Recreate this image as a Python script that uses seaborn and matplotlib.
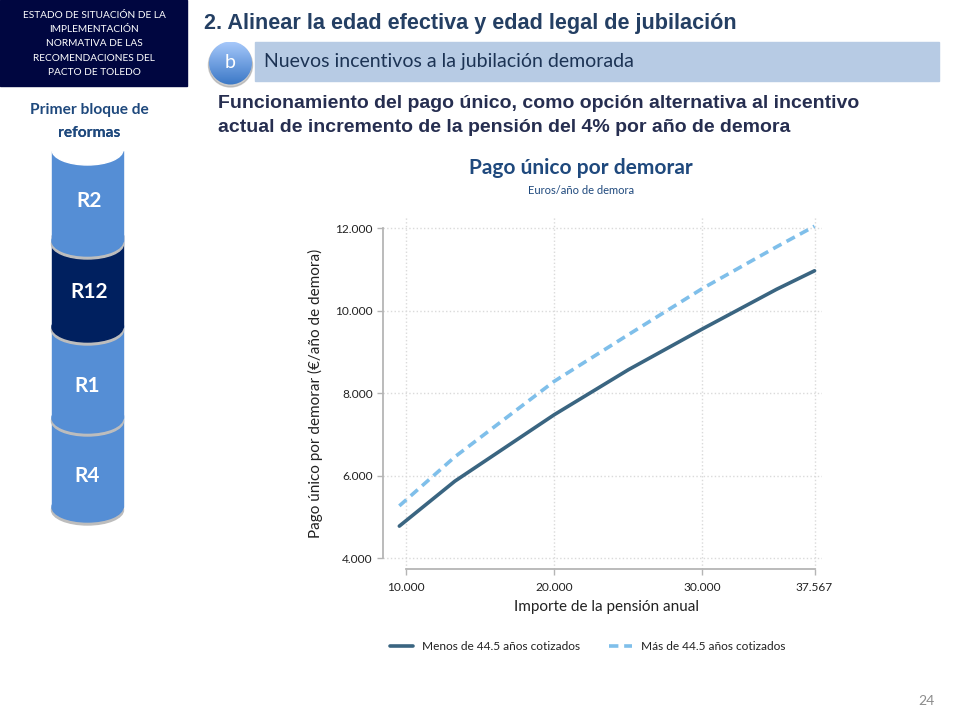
import numpy as np
import pandas as pd
import seaborn as sns
import matplotlib
matplotlib.use("Agg")
import matplotlib.pyplot as plt
from matplotlib.patches import Rectangle, Ellipse, Circle

# datos
pension = [9550, 13300, 20000, 25000, 30000, 35000, 37567]
menos_445 = [4780, 5870, 7480, 8570, 9560, 10520, 10970]
mas_445 = [5270, 6460, 8290, 9420, 10540, 11550, 12050]
x_ticks = [10000, 20000, 30000, 37567]
x_labels = ["10.000", "20.000", "30.000", "37.567"]
y_ticks = [4000, 6000, 8000, 10000, 12000]
y_labels = ["4.000", "6.000", "8.000", "10.000", "12.000"]
serie_menos = "Menos de 44.5 años cotizados"
serie_mas = "Más de 44.5 años cotizados"

df = pd.DataFrame({
    "pension": pension * 2,
    "pago": menos_445 + mas_445,
    "grupo": [serie_menos] * len(pension) + [serie_mas] * len(pension),
})

sns.set_style("white")
plt.rcParams["font.family"] = ["Lato", "DejaVu Sans"]

fig = plt.figure(figsize=(9.6, 7.2), dpi=100)

# fondo de la diapositiva, en pixeles
bg = fig.add_axes([0, 0, 1, 1])
bg.set_xlim(0, 960)
bg.set_ylim(720, 0)
bg.axis("off")

navy = "#000640"
azul = "#558ED5"
azul_osc = "#00205F"
texto_azul = "#1F497D"

bg.add_patch(Rectangle((0, 0), 187, 86, color=navy))
cab = ["ESTADO DE SITUACIÓN DE LA", "IMPLEMENTACIÓN", "NORMATIVA DE LAS",
       "RECOMENDACIONES DEL", "PACTO DE TOLEDO"]
for i, t in enumerate(cab):
    bg.text(94, 15 + i * 14.4, t, color="white", fontsize=7.3, ha="center", va="center")

bg.text(89, 110, "Primer bloque de", color=texto_azul, fontsize=11.2, weight="bold", ha="center", va="center")
bg.text(89, 133, "reformas", color=texto_azul, fontsize=11.2, weight="bold", ha="center", va="center")


def cilindro(top, bottom, color, label, ylab, xlab):
    # borde gris inferior y cuerpo
    bg.add_patch(Ellipse((87.5, bottom + 3), 72, 30, color="#BDBDBD"))
    bg.add_patch(Ellipse((87.5, bottom), 71, 30, color=color))
    bg.add_patch(Rectangle((52, top), 71, bottom - top, color=color))
    bg.text(xlab, ylab, label, color="white", fontsize=15, weight="bold", ha="center", va="center")


cilindro(415, 507, azul, "R4", 476, 87.5)
cilindro(325, 418, azul, "R1", 386, 87.5)
cilindro(235, 327, azul_osc, "R12", 292, 89)
cilindro(150, 241, azul, "R2", 201, 89)
bg.add_patch(Ellipse((87.5, 150), 71, 30, color="white"))
bg.add_patch(Rectangle((50, 130), 75, 20, color="white"))
bg.text(89, 133, "reformas", color=texto_azul, fontsize=11.2, weight="bold", ha="center", va="center")

# titulos
bg.text(204, 24, "2. Alinear la edad efectiva y edad legal de jubilación", color="#243F63",
        fontsize=15.6, weight="bold", family="Liberation Sans", ha="left", va="center")
bg.add_patch(Rectangle((255, 42), 684, 39, color="#B7CBE4"))
bg.text(264, 61, "Nuevos incentivos a la jubilación demorada", color="#1C3354",
        fontsize=14, ha="left", va="center")

# boton b con degradado
bg.add_patch(Circle((230.5, 65), 22, color="#9A9A9A", alpha=0.5))
grad = np.linspace(0, 1, 100).reshape(-1, 1)
cmap = matplotlib.colors.LinearSegmentedColormap.from_list("btn", ["#A6C8FA", "#6F9FE0", "#3B78C6"])
im = bg.imshow(grad, extent=(209, 252, 85, 42), cmap=cmap, aspect="auto", zorder=2)
im.set_clip_path(Circle((230.5, 63), 21.5, transform=bg.transData))
bg.set_xlim(0, 960)
bg.set_ylim(720, 0)
bg.text(230, 63, "b", color="white", fontsize=14, ha="center", va="center", zorder=3)

bg.text(218, 104, "Funcionamiento del pago único, como opción alternativa al incentivo", color="#262E50",
        fontsize=14, weight="bold", family="Liberation Sans", ha="left", va="center")
bg.text(218, 128, "actual de incremento de la pensión del 4% por año de demora", color="#262E50",
        fontsize=14, weight="bold", family="Liberation Sans", ha="left", va="center")

bg.text(581, 168, "Pago único por demorar", color=texto_azul, fontsize=15, weight="bold", ha="center", va="center")
bg.text(581, 190, "Euros/año de demora", color=texto_azul, fontsize=8, ha="center", va="center")
bg.text(926, 701, "24", color="#8C8C8C", fontsize=10, ha="center", va="center")

# grafico principal
ax = fig.add_axes([383.3 / 960, 1 - 569 / 720, (822 - 383.3) / 960, (569 - 216) / 720])
ax.patch.set_alpha(0)
sns.lineplot(
    data=df, x="pension", y="pago", hue="grupo", style="grupo",
    palette={serie_menos: "#3A6581", serie_mas: "#7FBFEA"},
    dashes={serie_menos: "", serie_mas: (2.6, 1.6)},
    linewidth=2.6, ax=ax,
)
ax.set_xlim(8468, 38070)
ax.set_ylim(3740, 12298)
ax.set_xticks(x_ticks, x_labels)
ax.set_yticks(y_ticks, y_labels)
ax.grid(True, color="#DADADA", linestyle=":", linewidth=1)
ax.set_axisbelow(True)
ax.tick_params(axis="both", which="major", direction="out", length=4.5, width=1, color="#B5B5B5",
               labelsize=8.6, labelcolor="#222222", pad=3, left=True, bottom=True)
ax.tick_params(axis="x", pad=5)

sns.despine(ax=ax)
for side in ["left", "bottom"]:
    ax.spines[side].set_color("#B5B5B5")
    ax.spines[side].set_linewidth(1.3)
ax.spines["left"].set_bounds(4000, 12000)
ax.spines["bottom"].set_bounds(10000, 37567)

ax.set_xlabel("Importe de la pensión anual", fontsize=11, color="#222222")
ax.set_ylabel("Pago único por demorar (€/año de demora)", fontsize=11, color="#222222")
ax.xaxis.set_label_coords((606 - 383.3) / (822 - 383.3), -(607 - 569) / 353, transform=ax.transAxes)
ax.xaxis.label.set_va("center")
ax.yaxis.set_label_coords(-(383.3 - 315) / (822 - 383.3), (569 - 393) / 353, transform=ax.transAxes)
ax.yaxis.label.set_va("center")

handles, labels = ax.get_legend_handles_labels()
ax.legend(handles, labels, ncol=2, frameon=False, fontsize=8.6, labelcolor="#222222",
          loc="center left", bbox_to_anchor=((390 - 383.3) / (822 - 383.3), -(647 - 569) / 353),
          handlelength=1.95, handletextpad=0.75, columnspacing=2.4, borderaxespad=0, borderpad=0)

fig.savefig("out.png", dpi=100)
